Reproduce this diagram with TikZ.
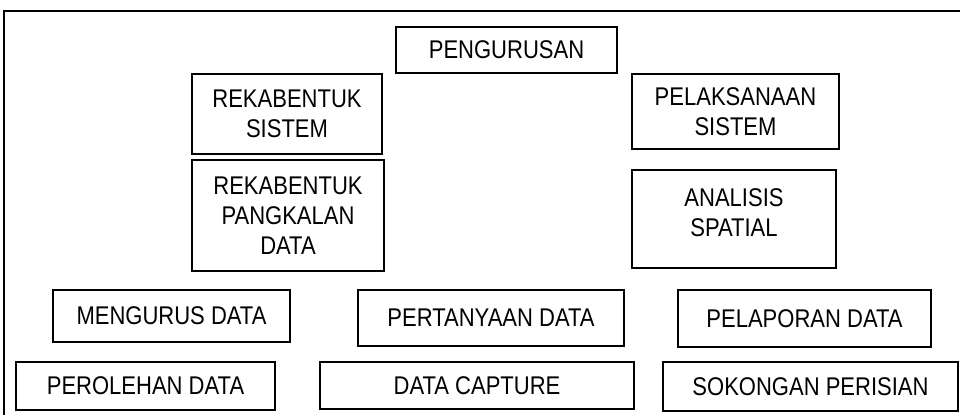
\documentclass[tikz,border=0pt]{standalone}
\usepackage{fontspec}
\setmainfont[FakeStretch=0.86]{Liberation Sans}
\usetikzlibrary{positioning}

\begin{document}
\begin{tikzpicture}[x=0.75pt, y=-0.75pt,
      kotak/.style={draw, line width=1.3pt, align=center, inner sep=0pt,
                    font=\fontsize{19.2}{22.5}\selectfont}]
      \useasboundingbox (0,0) rectangle (960,414);
      \clip (0,0) rectangle (960,414);
      \draw[line width=1.5pt] (4,11) rectangle (990,440);

      \node[kotak, minimum width=165.75pt, minimum height=34.5pt] (pengurusan) at (506.5,50) {PENGURUSAN};
      \node[kotak, minimum width=142.5pt, minimum height=60pt] (rsistem) at (287,114) {REKABENTUK\\SISTEM};
      \node[kotak, minimum width=144pt, minimum height=83.25pt] (rpangkalan) at (288,215.5) {REKABENTUK\\PANGKALAN\\DATA};
      \node[kotak, minimum width=155.25pt, minimum height=56.25pt] (pelaksanaan) at (735.5,111.5) {PELAKSANAAN\\SISTEM};
      \node[kotak, minimum width=153pt, minimum height=73.5pt, text depth=9pt] (analisis) at (734,219) {ANALISIS\\SPATIAL};

      \node[kotak, minimum width=177.75pt, minimum height=39pt] (mengurus) at (171.5,316) {MENGURUS DATA};
      \node[kotak, minimum width=199.5pt, minimum height=42pt] (pertanyaan) at (491,318) {PERTANYAAN DATA};
      \node[kotak, minimum width=189.75pt, minimum height=42.75pt] (pelaporan) at (804.5,318.5) {PELAPORAN DATA};

      \node[kotak, minimum width=194.25pt, minimum height=36pt] (perolehan) at (145.5,386) {PEROLEHAN DATA};
      \node[kotak, minimum width=235.5pt, minimum height=35.25pt] (capture) at (477,385.5) {DATA CAPTURE};
      \node[kotak, minimum width=221.25pt, minimum height=36.75pt] (sokongan) at (810.5,386.5) {SOKONGAN PERISIAN};
\end{tikzpicture}
\end{document}
